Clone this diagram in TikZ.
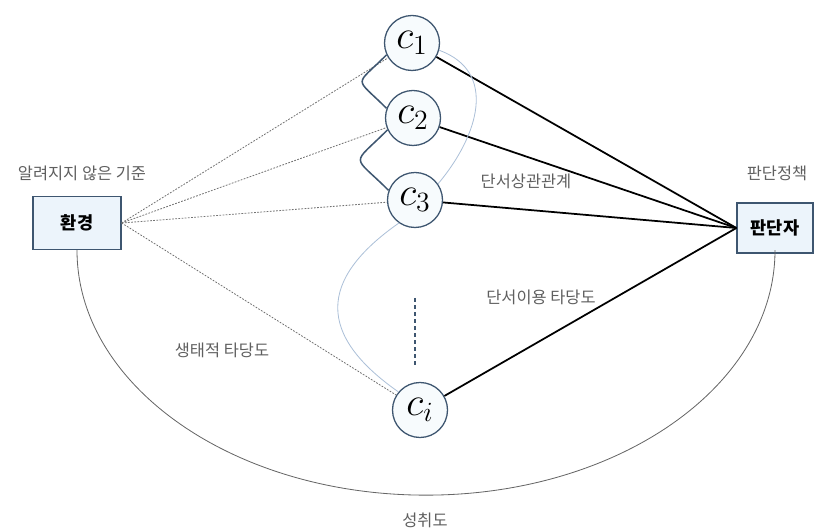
\documentclass[tikz,border=0pt]{standalone}
\usepackage{graphicx}
\usepackage{fontspec}
\newfontfamily\kr{Noto Sans CJK KR}
\definecolor{edgeblue}{RGB}{62,86,112}
\definecolor{paleblue}{RGB}{236,244,251}
\definecolor{lightcurve}{RGB}{172,192,216}
\definecolor{labelgray}{RGB}{95,95,95}
\newcommand{\cuelabel}[1]{\scalebox{1.65}{$c_{#1}$}}
\tikzset{
  cue/.style={circle, draw=edgeblue, line width=1.1pt, fill=paleblue!40, minimum size=55*0.03cm, inner sep=0pt, font=\huge},
  agent/.style={rectangle, draw=edgeblue, line width=1.1pt, fill=paleblue, minimum width=88*0.03cm, minimum height=53*0.03cm, font=\kr\bfseries\fontsize{15}{17}\selectfont},
  lbl/.style={text=labelgray, font=\kr\fontsize{14}{16}\selectfont},
  eco/.style={gray!90!black, dash pattern=on 1.5pt off 1.2pt, line width=0.7pt},
  util/.style={black, line width=1.5pt},
  intercor/.style={edgeblue, line width=1.3pt},
  thin/.style={lightcurve, line width=0.7pt}
}
\begin{document}
\begin{tikzpicture}[x=0.03cm, y=0.03cm]
  \useasboundingbox (0,0) rectangle (820,531);
  % environment and judge
  \node [agent] (env) at (77,308) {환경};
  \node [agent, minimum width=76*0.03cm, minimum height=50*0.03cm] (judge) at (775,303) {판단자};
  % cues
  \node [cue] (c1) at (412,488) {\cuelabel{1}};
  \node [cue] (c2) at (413,413) {\cuelabel{2}};
  \node [cue] (c3) at (415,331) {\cuelabel{3}};
  \node [cue] (ci) at (420,121) {\cuelabel{i}};
  \coordinate (dtop) at (415,233);
  \coordinate (dbot) at (415,164);
  % labels
  \node [lbl] (unknown) at (82,358) {알려지지 않은 기준};
  \node [lbl] (policy) at (777,358) {판단정책};
  \node [lbl] (intercorr) at (526,350) {단서상관관계};
  \node [lbl] (usevalid) at (541,234) {단서이용 타당도};
  \node [lbl] (ecovalid) at (222,181) {생태적 타당도};
  \node [lbl] (achieve) at (425,11) {성취도};
  % ecological side
  \foreach \c in {c1,c2,c3,ci}
    \draw [eco] (env.east) -- (\c);
  % utilization side
  \foreach \c in {c1,c2,c3,ci}
    \draw [util] (\c) -- (judge.west);
  % cue intercorrelations
  \draw [intercor] (c1.205) to [out=225, in=135, looseness=2.2] (c2.160);
  \draw [intercor] (c2.205) to [out=225, in=135, looseness=2.2] (c3.160);
  \draw [thin] (c1.-15) to [out=-20, in=50, looseness=1.2] (c3.35);
  \draw [thin] (c3.235) to [out=215, in=145, looseness=1.5] (ci.140);
  \draw [edgeblue, dashed, line width=0.9pt] (dtop) -- (dbot);
  % achievement
  \draw [gray!80!black, line width=0.7pt] (env.south) arc [start angle=180, end angle=360, x radius=349, y radius=245];
\end{tikzpicture}
\end{document}
